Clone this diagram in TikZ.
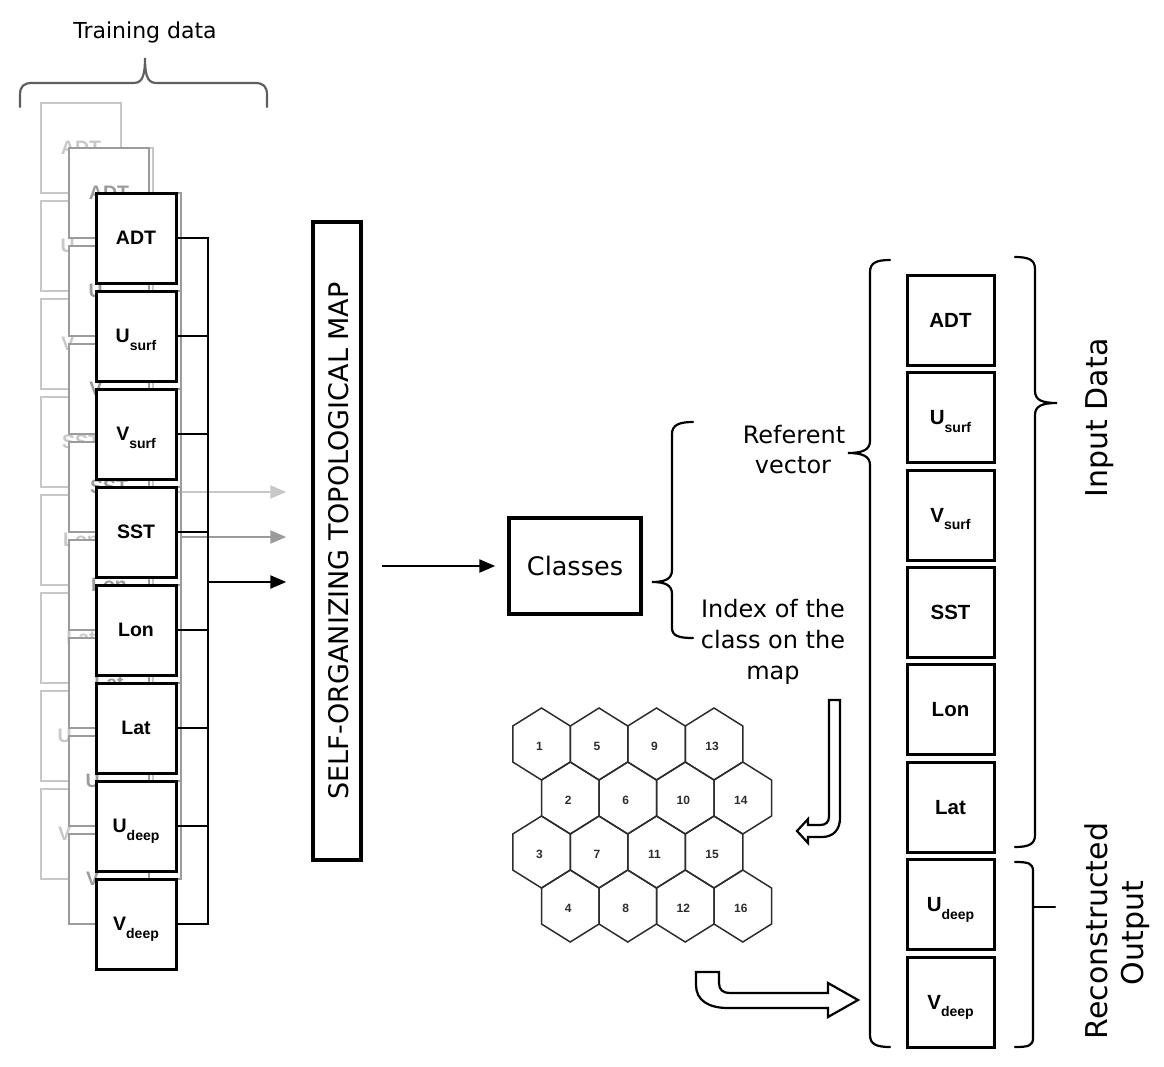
\documentclass[tikz,border=0pt]{standalone}
\usepackage{fontspec}
\setmainfont{DejaVu Sans}
\newfontfamily\lib{Liberation Sans}
\usetikzlibrary{arrows.meta}
\definecolor{lightg}{RGB}{200,200,200}
\definecolor{midg}{RGB}{155,155,155}
\definecolor{braceg}{RGB}{95,95,95}
\definecolor{hexc}{RGB}{45,45,45}
\newcommand\SUB[1]{\smash{\raisebox{-7.5pt}{\fontsize{14}{14}\selectfont #1}}}
\begin{document}
\begin{tikzpicture}[x=1pt,y=-1pt,
  vbox/.style={draw,fill=white,line width=3pt,minimum width=80pt,minimum height=90pt,inner sep=0pt,font=\lib\bfseries\fontsize{19.5}{21}\selectfont},
  fcol/.style={vbox,draw=black,text=black},
  mcol/.style={vbox,draw=midg,text=midg,line width=2.6pt},
  bcol/.style={vbox,draw=lightg,text=lightg,line width=2.6pt},
  rbox/.style={draw,fill=white,line width=3pt,minimum width=87pt,minimum height=90pt,inner sep=0pt,font=\lib\bfseries\fontsize{20.5}{22}\selectfont},
  bus/.style={line width=2.7pt,line join=miter},
  arr/.style={line width=2.4pt,-{Triangle[length=16pt,width=13pt]}},
  brc/.style={line width=2.2pt,line cap=round},
  hexs/.style={draw=hexc,line width=1.5pt,line join=miter},
  hexlab/.style={font=\lib\bfseries\fontsize{12}{12}\selectfont,text=hexc,inner sep=0pt},
  txt/.style={inner sep=0pt,anchor=base,font=\fontsize{24}{28}\selectfont},
  big/.style={inner sep=0pt,anchor=base,rotate=90,font=\fontsize{30}{34}\selectfont},
  harr/.style={draw=black,fill=white,line width=2.2pt,line join=miter}
]
\useasboundingbox (0,0) rectangle (1164,1066);

% Training data brace and label
\node[inner sep=0pt,anchor=base,font=\fontsize{22}{24}\selectfont] (train) at (145,38) {Training data};
\draw[brc,braceg] (20,107) -- (20,95) .. controls (20,86) and (24,83) .. (32,83) -- (133,83)
  .. controls (141,83) and (145,79) .. (145,58)
  .. controls (145,79) and (149,83) .. (157,83) -- (255,83)
  .. controls (263,83) and (267,86) .. (267,95) -- (267,107);

% SOM box
\node[draw,line width=3.5pt,minimum width=48pt,minimum height=638pt,inner sep=0pt] (som) at (337,541) {};
\node[inner sep=0pt,anchor=base,rotate=90,font=\fontsize{27}{30}\selectfont] (somt) at (348,541) {SELF-ORGANIZING TOPOLOGICAL MAP};

% bus coordinates
\coordinate (bb) at (153,0);
\coordinate (mb) at (181,0);
\coordinate (fb) at (208,0);
\coordinate (ba) at (153,492);
\coordinate (ma) at (181,537);
\coordinate (fa) at (208,582);

% back stack
\foreach \t [count=\i from 0] in {ADT,U\SUB{surf},V\SUB{surf},SST,Lon,Lat,U\SUB{deep},V\SUB{deep}}
  \node[bcol] (b\i) at (81,{148+98*\i}) {\t};
\draw[bus,lightg] (b0.east) -- (b0.east -| bb) -- (b7.east -| bb) -- (b7.east);
\foreach \i in {1,...,6} \draw[bus,lightg] (b\i.east) -- (b\i.east -| bb);
\draw[arr,lightg,shorten >=25pt] (ba) -- (ba -| som.west);

% middle stack
\foreach \t [count=\i from 0] in {ADT,U\SUB{surf},V\SUB{surf},SST,Lon,Lat,U\SUB{deep},V\SUB{deep}}
  \node[mcol] (m\i) at (109,{193+98*\i}) {\t};
\draw[bus,midg] (m0.east) -- (m0.east -| mb) -- (m7.east -| mb) -- (m7.east);
\foreach \i in {1,...,6} \draw[bus,midg] (m\i.east) -- (m\i.east -| mb);
\draw[arr,midg,shorten >=25pt] (ma) -- (ma -| som.west);

% front stack
\foreach \t [count=\i from 0] in {ADT,U\SUB{surf},V\SUB{surf},SST,Lon,Lat,U\SUB{deep},V\SUB{deep}}
  \node[fcol] (f\i) at (136,{238+98*\i}) {\t};
\draw[bus] (f0.east) -- (f0.east -| fb) -- (f7.east -| fb) -- (f7.east);
\foreach \i in {1,...,6} \draw[bus] (f\i.east) -- (f\i.east -| fb);
\draw[arr,shorten >=25pt] (fa) -- (fa -| som.west);

% Classes
\node[draw,line width=3.5pt,minimum width=132pt,minimum height=96pt,inner sep=0pt,font=\fontsize{25.5}{30}\selectfont] (cls) at (575,566) {Classes};
\draw[arr,shorten <=19pt,shorten >=12pt] (som.east |- cls.west) -- (cls.west);

% Referent / index brace and texts
\draw[brc] (693,422) .. controls (679,422) and (672,425) .. (672,434) -- (672,570)
  .. controls (672,579) and (665,582) .. (652,582)
  .. controls (665,582) and (672,585) .. (672,594) -- (672,628)
  .. controls (672,636) and (679,638) .. (693,638);
\node[txt] (ref1) at (794,443) {Referent};
\node[txt] (ref2) at (793,473) {vector};
\node[txt] (idx1) at (773,617) {Index of the};
\node[txt] (idx2) at (773,648) {class on the};
\node[txt] (idx3) at (773,679) {map};

% right column
\foreach \t [count=\i from 0] in {ADT,U\SUB{surf},V\SUB{surf},SST,Lon,Lat,U\SUB{deep},V\SUB{deep}}
  \node[rbox] (r\i) at (950.5,{320.5+97.36*\i}) {\t};

% big left brace
\draw[brc] (890,260) .. controls (876,260) and (870,263) .. (870,272) -- (870,441)
  .. controls (870,450) and (862,453) .. (848,453)
  .. controls (862,453) and (870,456) .. (870,465) -- (870,1035)
  .. controls (870,1044) and (876,1047) .. (890,1047);

% Input data brace
\draw[brc] (1015,257) .. controls (1029,257) and (1035,260) .. (1035,269) -- (1035,391)
  .. controls (1035,400) and (1042,403) .. (1057,403)
  .. controls (1042,403) and (1035,406) .. (1035,415) -- (1035,835)
  .. controls (1035,844) and (1029,847) .. (1015,847);
\node[big] (inp) at (1107,418) {Input Data};

% Reconstructed output brace
\draw[brc] (1015,862) .. controls (1028,862) and (1033,863) .. (1033,871) -- (1033,1038)
  .. controls (1033,1046) and (1028,1047) .. (1015,1047);
\draw[brc] (1033,907) -- (1055,907);
\node[big] (rec1) at (1107,931) {Reconstructed};
\node[big] (rec2) at (1143,933) {Output};

% hexagonal map
\foreach \c in {0,...,3}
  \foreach \r in {0,...,3} {
    \pgfmathsetmacro\cx{541.5+57.5*\c+28.75*mod(\r,2)}
    \pgfmathsetmacro\cy{744+54*\r}
    \pgfmathtruncatemacro\n{4*\c+\r+1}
    \draw[hexs] (\cx,\cy-36) -- (\cx+28.75,\cy-18) -- (\cx+28.75,\cy+18) -- (\cx,\cy+36)
      -- (\cx-28.75,\cy+18) -- (\cx-28.75,\cy-18) -- cycle;
    \node[hexlab] (h\n) at (\cx-2,\cy+2) {\n};
  }

% outline arrows
\draw[harr] (829,700) -- (840,700) -- (840,818) .. controls (840,830) and (833,837) .. (822,837)
  -- (808,837) -- (808,843) -- (797,831) -- (808,819) -- (808,825) -- (820,825)
  .. controls (826,825) and (829,822) .. (829,816) -- cycle;
\draw[harr] (696,972) -- (719,972) -- (719,983) .. controls (719,990) and (723,993) .. (730,993)
  -- (828,993) -- (828,983) -- (858,1000) -- (828,1017) -- (828,1008) -- (728,1008)
  .. controls (708,1008) and (696,1000) .. (696,985) -- cycle;
\end{tikzpicture}
\end{document}
